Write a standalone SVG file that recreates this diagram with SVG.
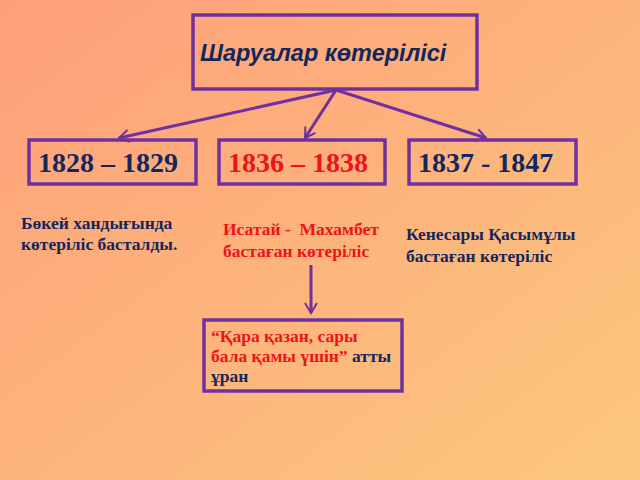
<svg xmlns="http://www.w3.org/2000/svg" width="640" height="480" viewBox="0 0 640 480">
<defs>
<linearGradient id="bg" x1="0" y1="0" x2="1" y2="1">
<stop offset="0" stop-color="#FE9F7B"/>
<stop offset="1" stop-color="#FCC87D"/>
</linearGradient>
<marker id="ah" markerWidth="14" markerHeight="14" viewBox="-12 -7 14 14" refX="0" refY="0" orient="auto" markerUnits="userSpaceOnUse">
<path d="M-10,-6 L0,0 L-10,6" fill="none" stroke="#7030A0" stroke-width="2"/>
</marker>
<style>
.box{fill:none;stroke:#7030A0;stroke-width:3.5}
.con{fill:none;stroke:#7030A0;stroke-width:3;marker-end:url(#ah)}
.yr{font-family:"Liberation Serif","Times New Roman",serif;font-weight:bold;font-size:28px}
.tx{font-family:"Liberation Serif","Times New Roman",serif;font-weight:bold;font-size:17.5px}
.nv{fill:#14275C}
.rd{fill:#F0121A}
</style>
</defs>
<rect width="640" height="480" fill="url(#bg)"/>
<g id="title">
<rect class="box" x="193" y="15" width="284" height="74"/>
<text x="200" y="61" font-family="'Liberation Sans',Arial,sans-serif" font-weight="bold" font-style="italic" font-size="23.5" class="nv">Шаруалар көтерілісі</text>
</g>
<g id="connectors">
<line class="con" x1="336" y1="90" x2="119" y2="138"/>
<line class="con" x1="336" y1="90" x2="305" y2="138"/>
<line class="con" x1="336" y1="90" x2="486" y2="138"/>
<line class="con" x1="311" y1="265" x2="311" y2="313"/>
</g>
<g id="n1828">
<rect class="box" x="29" y="140" width="167" height="44"/>
<text x="38" y="172" class="yr nv">1828 – 1829</text>
</g>
<g id="n1836">
<rect class="box" x="219" y="140" width="166" height="44"/>
<text x="228" y="172" class="yr rd">1836 – 1838</text>
</g>
<g id="n1837">
<rect class="box" x="409" y="140" width="167" height="44"/>
<text x="418" y="172" class="yr nv">1837 - 1847</text>
</g>
<g id="t1">
<text x="21" y="229" class="tx nv">Бөкей хандығында</text>
<text x="21" y="250" class="tx nv">көтеріліс басталды.</text>
</g>
<g id="t2">
<text x="223" y="235" class="tx rd" xml:space="preserve">Исатай -  Махамбет</text>
<text x="223" y="257" class="tx rd">бастаған көтеріліс</text>
</g>
<g id="t3">
<text x="406" y="240" class="tx nv">Кенесары Қасымұлы</text>
<text x="406" y="262" class="tx nv">бастаған көтеріліс</text>
</g>
<g id="slogan">
<rect class="box" x="204" y="320" width="198" height="71" stroke-width="3"/>
<text x="211" y="342" class="tx rd">“Қара қазан, сары</text>
<text x="211" y="362" class="tx"><tspan class="rd">бала қамы үшін”</tspan><tspan class="nv"> атты</tspan></text>
<text x="211" y="382" class="tx nv">ұран</text>
</g>
</svg>
